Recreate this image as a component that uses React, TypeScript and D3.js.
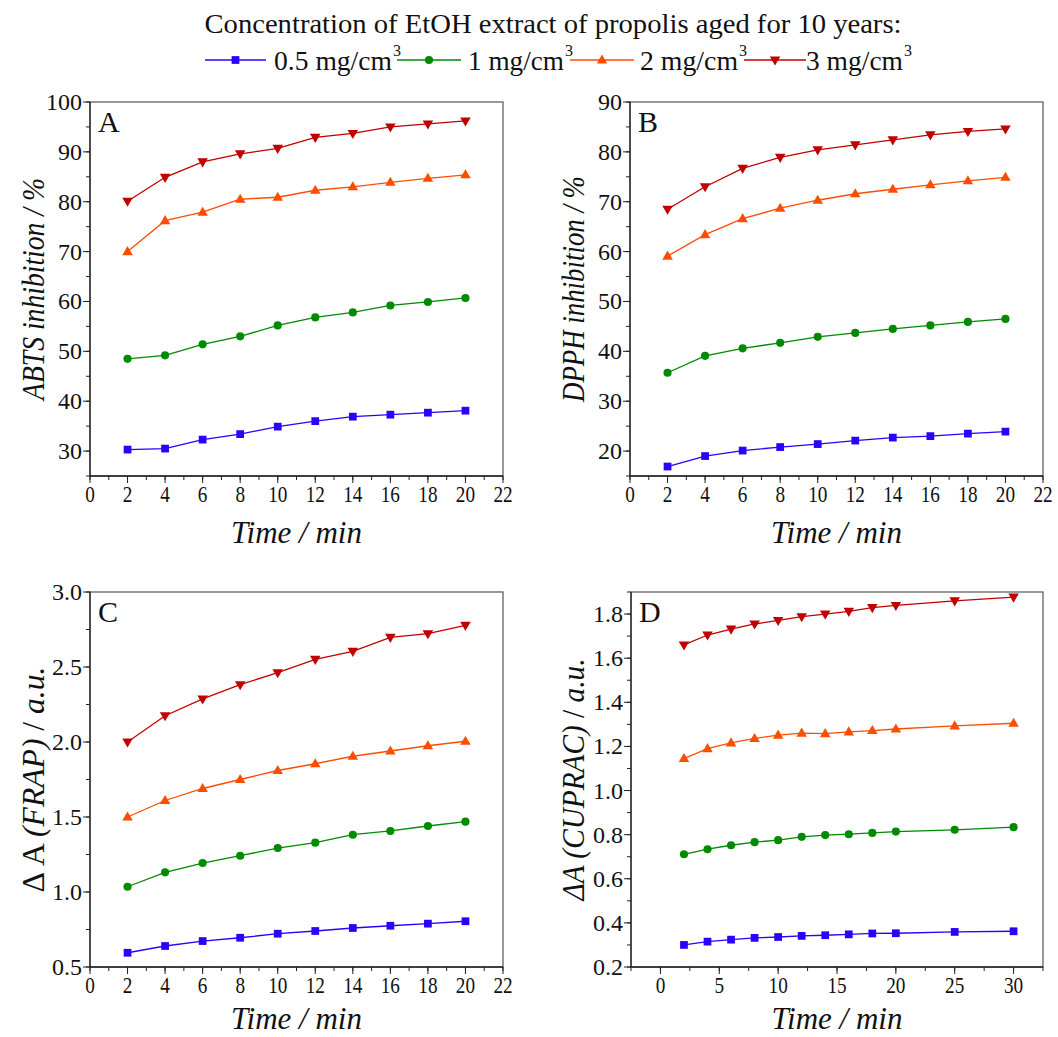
import React from "react";
import * as d3 from "d3";

const timesAC = [2, 4, 6, 8, 10, 12, 14, 16, 18, 20];
const timesD = [2, 4, 6, 8, 10, 12, 14, 16, 18, 20, 25, 30];

const seriesNames = ["0.5 mg/cm", "1 mg/cm", "2 mg/cm", "3 mg/cm"];
const seriesColors = ["#2a00ff", "#008a00", "#ff4d00", "#c00000"];
const seriesSymbols = ["square", "circle", "triangleUp", "triangleDown"];

const abts05 = [30.3, 30.5, 32.3, 33.4, 34.9, 36.0, 36.9, 37.3, 37.7, 38.1];
const abts1 = [48.5, 49.2, 51.4, 53.0, 55.2, 56.8, 57.8, 59.2, 59.9, 60.7];
const abts2 = [70.0, 76.2, 77.9, 80.5, 80.9, 82.3, 83.0, 83.9, 84.7, 85.4];
const abts3 = [80.1, 84.9, 88.0, 89.6, 90.7, 92.9, 93.7, 95.0, 95.6, 96.2];

const dpph05 = [16.9, 19.0, 20.1, 20.8, 21.4, 22.1, 22.7, 23.0, 23.5, 23.9];
const dpph1 = [35.7, 39.1, 40.6, 41.7, 42.9, 43.7, 44.5, 45.2, 45.9, 46.5];
const dpph2 = [59.1, 63.4, 66.6, 68.7, 70.3, 71.6, 72.5, 73.4, 74.2, 74.9];
const dpph3 = [68.5, 73.0, 76.7, 78.9, 80.4, 81.4, 82.4, 83.4, 84.1, 84.6];

const frap05 = [0.595, 0.64, 0.673, 0.695, 0.722, 0.74, 0.76, 0.775, 0.789, 0.805];
const frap1 = [1.035, 1.131, 1.193, 1.242, 1.293, 1.329, 1.382, 1.407, 1.44, 1.469];
const frap2 = [1.5, 1.61, 1.69, 1.75, 1.81, 1.855, 1.905, 1.94, 1.975, 2.005];
const frap3 = [2.0, 2.175, 2.287, 2.382, 2.462, 2.551, 2.604, 2.698, 2.722, 2.778];

const cuprac05 = [0.3, 0.315, 0.324, 0.332, 0.336, 0.341, 0.344, 0.348, 0.352, 0.353, 0.359, 0.362];
const cuprac1 = [0.711, 0.734, 0.752, 0.766, 0.775, 0.79, 0.798, 0.802, 0.808, 0.814, 0.822, 0.834];
const cuprac2 = [1.145, 1.19, 1.216, 1.236, 1.251, 1.26, 1.258, 1.266, 1.272, 1.279, 1.293, 1.305];
const cuprac3 = [1.66, 1.705, 1.732, 1.755, 1.771, 1.788, 1.8, 1.812, 1.829, 1.839, 1.86, 1.877];

const xTicksAC = d3.range(0, 23, 2);
const xMinorAC = d3.range(0, 23, 1);
const xTicksD = [0, 5, 10, 15, 20, 25, 30];
const xMinorD = d3.range(-2.5, 33, 2.5);

const yTicksA = d3.range(30, 101, 10);
const yMinorA = d3.range(25, 101, 5);
const yTicksB = d3.range(20, 91, 10);
const yMinorB = d3.range(15, 91, 5);
const yTicksC = [0.5, 1.0, 1.5, 2.0, 2.5, 3.0];
const yMinorC = d3.range(0.5, 3.01, 0.25);
const yTicksD = [0.2, 0.4, 0.6, 0.8, 1.0, 1.2, 1.4, 1.6, 1.8];
const yMinorD = d3.range(0.2, 1.91, 0.1);

const FONT = "'Liberation Serif', 'Times New Roman', 'DejaVu Serif', serif";
const fontStyle = { fontFamily: FONT };

function symbolPath(kind: string) {
  if (kind === "square") return d3.symbol(d3.symbolSquare, 60)();
  if (kind === "circle") return d3.symbol(d3.symbolCircle, 52)();
  return d3.symbol(d3.symbolTriangle, 48)();
}

function Marker({ kind, x, y, color }: any) {
  const rot = kind === "triangleDown" ? 180 : 0;
  const dy = kind === "triangleUp" ? 0.5 : kind === "triangleDown" ? -0.5 : 0;
  return (
    <path
      d={symbolPath(kind) as string}
      transform={`translate(${x},${y + dy}) rotate(${rot})`}
      fill={color}
      stroke="none"
    />
  );
}

function Panel(props: any) {
  const {
    box, xDomain, yDomain, xTicks, xMinor, yTicks, yMinor, xs, data, letter,
    yDecimals, yTitle, yTitleLen, yTitleX, xTitleDy,
  } = props;
  const [x0, x1, y0, y1] = box;
  const xs_ = d3.scaleLinear().domain(xDomain).range([x0, x1]);
  const ys_ = d3.scaleLinear().domain(yDomain).range([y1, y0]);
  const fmt = d3.format(`.${yDecimals}f`);
  const line = d3.line<number>();
  return (
    <g style={fontStyle}>
      <rect x={x0} y={y0} width={x1 - x0} height={y1 - y0} fill="none" stroke="#555" strokeWidth={1.2} />
      <line x1={x0} x2={x0} y1={y0} y2={y1} stroke="#222" strokeWidth={1.3} />
      <line x1={x0} x2={x1} y1={y1} y2={y1} stroke="#222" strokeWidth={1.3} />
      {yMinor.map((v: number, i: number) => (
        <line key={"ym" + i} x1={x0 - 4} x2={x0} y1={ys_(v)} y2={ys_(v)} stroke="#222" strokeWidth={1} />
      ))}
      {yTicks.map((v: number, i: number) => (
        <g key={"yt" + i}>
          <line x1={x0 - 7} x2={x0} y1={ys_(v)} y2={ys_(v)} stroke="#222" strokeWidth={1} />
          <text x={x0 - 8} y={ys_(v) + 8} textAnchor="end" style={fontStyle} fontSize={24} fill="#111">
            {fmt(v)}
          </text>
        </g>
      ))}
      {xMinor.map((v: number, i: number) => (
        <line key={"xm" + i} x1={xs_(v)} x2={xs_(v)} y1={y1} y2={y1 + 4} stroke="#222" strokeWidth={1} />
      ))}
      {xTicks.map((v: number, i: number) => (
        <g key={"xt" + i}>
          <line x1={xs_(v)} x2={xs_(v)} y1={y1} y2={y1 + 7} stroke="#222" strokeWidth={1} />
          <text
            x={0}
            y={0}
            textAnchor="middle"
            style={fontStyle}
            fontSize={24}
            fill="#111"
            transform={`translate(${xs_(v)},${y1 + 26}) scale(0.8,1)`}
          >
            {v}
          </text>
        </g>
      ))}
      <text x={x0 + 8} y={y0 + 30} style={fontStyle} fontSize={30} fill="#111">{letter}</text>
      {data.map((vals: number[], si: number) => (
        <g key={"s" + si}>
          <path
            d={line(vals.map((v, j) => [xs_(xs[j]), ys_(v)] as any) as any) as string}
            fill="none"
            stroke={seriesColors[si]}
            strokeWidth={1.3}
          />
          {vals.map((v, j) => (
            <Marker key={j} kind={seriesSymbols[si]} x={xs_(xs[j])} y={ys_(v)} color={seriesColors[si]} />
          ))}
        </g>
      ))}
      <text
        x={(x0 + x1) / 2}
        y={y1 + xTitleDy}
        textAnchor="middle"
        style={fontStyle}
        fontStyle="italic"
        fontSize={31}
        fill="#111"
      >
        Time / min
      </text>
      <text
        transform={`translate(${yTitleX},${(y0 + y1) / 2}) rotate(-90)`}
        textAnchor="middle"
        style={fontStyle}
        fontSize={31}
        fill="#111"
        textLength={yTitleLen}
        lengthAdjust="spacingAndGlyphs"
      >
        {yTitle}
      </text>
    </g>
  );
}

export default function App() {
  const legendItems = [
    { lx0: 205, lx1: 266, tx: 274, tw: 118 },
    { lx0: 397, lx1: 461, tx: 468, tw: 96 },
    { lx0: 570, lx1: 634, tx: 640, tw: 98 },
    { lx0: 744, lx1: 806, tx: 806, tw: 97 },
  ];
  return (
    <svg width={1058} height={1037} style={{ position: "absolute", left: 0, top: 0, background: "#fff", fontFamily: FONT }}>
      <text x={553} y={33} textAnchor="middle" style={fontStyle} fontSize={28} fill="#111" textLength={697} lengthAdjust="spacingAndGlyphs">
        Concentration of EtOH extract of propolis aged for 10 years:
      </text>
      {legendItems.map((it, i) => (
        <g key={i}>
          <line x1={it.lx0} x2={it.lx1} y1={60} y2={60} stroke={seriesColors[i]} strokeWidth={1.3} />
          <Marker kind={seriesSymbols[i]} x={(it.lx0 + it.lx1) / 2} y={60} color={seriesColors[i]} />
          <text x={it.tx} y={70} style={fontStyle} fontSize={27} fill="#111" textLength={it.tw} lengthAdjust="spacingAndGlyphs">
            {seriesNames[i]}
          </text>
          <text x={it.tx + it.tw + 1} y={56} style={fontStyle} fontSize={16} fill="#111">3</text>
        </g>
      ))}
      <Panel
        box={[90, 503, 102, 476]}
        xDomain={[0, 22]}
        yDomain={[25, 100]}
        xTicks={xTicksAC}
        xMinor={xMinorAC}
        yTicks={yTicksA}
        yMinor={yMinorA}
        xs={timesAC}
        data={[abts05, abts1, abts2, abts3]}
        letter="A"
        yDecimals={0}
        yTitle={<tspan fontStyle="italic">ABTS inhibition / %</tspan>}
        yTitleLen={222}
        yTitleX={44}
        xTitleDy={67}
      />
      <Panel
        box={[630, 1043, 102, 476]}
        xDomain={[0, 22]}
        yDomain={[15, 90]}
        xTicks={xTicksAC}
        xMinor={xMinorAC}
        yTicks={yTicksB}
        yMinor={yMinorB}
        xs={timesAC}
        data={[dpph05, dpph1, dpph2, dpph3]}
        letter="B"
        yDecimals={0}
        yTitle={<tspan fontStyle="italic">DPPH inhibition / %</tspan>}
        yTitleLen={226}
        yTitleX={584}
        xTitleDy={67}
      />
      <Panel
        box={[90, 503, 592, 967]}
        xDomain={[0, 22]}
        yDomain={[0.5, 3.0]}
        xTicks={xTicksAC}
        xMinor={xMinorAC}
        yTicks={yTicksC}
        yMinor={yMinorC}
        xs={timesAC}
        data={[frap05, frap1, frap2, frap3]}
        letter="C"
        yDecimals={1}
        yTitle={
          <>
            <tspan>Δ A </tspan>
            <tspan fontStyle="italic">(FRAP)</tspan>
            <tspan> / </tspan>
            <tspan fontStyle="italic">a.u.</tspan>
          </>
        }
        yTitleLen={226}
        yTitleX={44}
        xTitleDy={62}
      />
      <Panel
        box={[631, 1043, 592, 967]}
        xDomain={[-2.5, 32.5]}
        yDomain={[0.2, 1.9]}
        xTicks={xTicksD}
        xMinor={xMinorD}
        yTicks={yTicksD}
        yMinor={yMinorD}
        xs={timesD}
        data={[cuprac05, cuprac1, cuprac2, cuprac3]}
        letter="D"
        yDecimals={1}
        yTitle={
          <>
            <tspan fontStyle="italic">ΔA (CUPRAC)</tspan>
            <tspan> / </tspan>
            <tspan fontStyle="italic">a.u.</tspan>
          </>
        }
        yTitleLen={242}
        yTitleX={584}
        xTitleDy={62}
      />
    </svg>
  );
}
